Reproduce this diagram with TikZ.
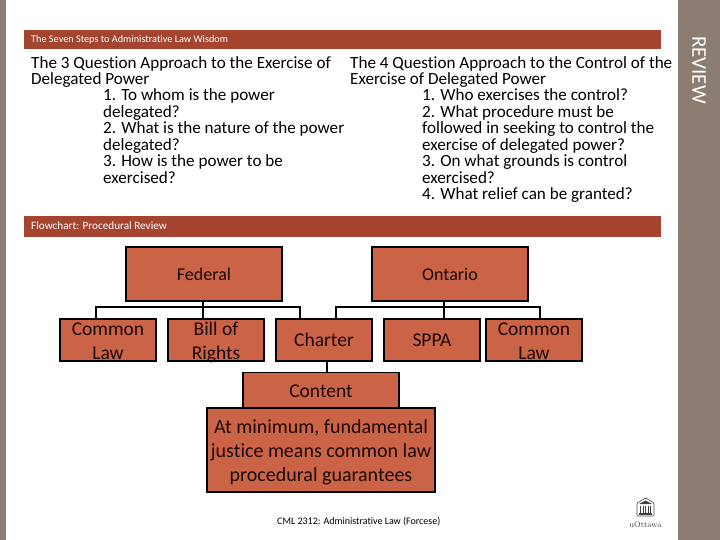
\documentclass[tikz,border=0pt]{standalone}
\usepackage{fontspec}
\setmainfont[Ligatures=NoCommon]{Carlito}
\definecolor{barred}{HTML}{A5452F}
\definecolor{boxred}{HTML}{CB6347}
\definecolor{panelgrey}{HTML}{8B7D72}
\definecolor{inkdark}{HTML}{1C0A06}
\newcommand\lowstrut[1]{\rule{0pt}{#1}}
\newcommand\twolines[2]{\raisebox{-8pt}[0pt][0pt]{\begin{tabular}{@{}c@{}}#1\\#2\end{tabular}}}
\tikzset{
  boxnode/.style={draw=black,line width=1.6pt,fill=boxred,text=inkdark,align=center,inner sep=0pt,font=\fontsize{19.5}{23.5}\selectfont},
  bartext/.style={anchor=west,text=white,inner sep=0pt},
  bodytext/.style={anchor=north west,inner sep=0pt,align=left,text=black,font=\fontsize{17.1}{16.5}\selectfont},
  link/.style={draw=black,line width=1.6pt}
}
\begin{document}
\begin{tikzpicture}[x=1pt,y=-1pt]
\useasboundingbox (0,0) rectangle (720,540);
\fill[panelgrey] (0,0) rectangle (6,540);
\fill[panelgrey] (678,0) rectangle (720,540);
\fill[barred] (24,30) rectangle (661,49);
\fill[barred] (24,216) rectangle (661,237);
\node[bartext,font=\fontsize{10.25}{12}\selectfont] (t1) at (31,39.5) {The Seven Steps to Administrative Law Wisdom};
\node[bartext,font=\fontsize{11.2}{12}\selectfont] (t2) at (31,226) {Flowchart: Procedural Review};
\node[rotate=-90,text=white,inner sep=0pt,font=\fontsize{21}{23}\selectfont] (rev) at (699,70) {REVIEW};
\node[bodytext] (l1) at (31,56) {The 3 Question Approach to the Exercise of\\Delegated Power};
\node[bodytext] (l2) at (103,88.5) {1. To whom is the power\\delegated?\\2. What is the nature of the power\\delegated?\\3. How is the power to be\\exercised?};
\node[bodytext] (r1) at (350,56) {The 4 Question Approach to the Control of the\\Exercise of Delegated Power};
\node[bodytext] (r2) at (422,88.5) {1. Who exercises the control?\\2. What procedure must be\\followed in seeking to control the\\exercise of delegated power?\\3. On what grounds is control\\exercised?\\4. What relief can be granted?};
\node[boxnode,font=\fontsize{18}{22}\selectfont,minimum width=156pt,minimum height=54pt] (fed) at (204,274) {Federal};
\node[boxnode,font=\fontsize{18}{22}\selectfont,minimum width=156pt,minimum height=54pt] (ont) at (450,274) {Ontario};
\node[boxnode,minimum width=96pt,minimum height=42pt] (cl1) at (108,340) {\twolines{Common}{Law}};
\node[boxnode,minimum width=96pt,minimum height=42pt] (bor) at (216,340) {\twolines{Bill of}{Rights}};
\node[boxnode,minimum width=96pt,minimum height=42pt] (cha) at (324,340) {Charter};
\node[boxnode,minimum width=96pt,minimum height=42pt] (spp) at (432,340) {SPPA};
\node[boxnode,minimum width=96pt,minimum height=42pt] (cl2) at (534,340) {\twolines{Common}{Law}};
\node[boxnode,minimum width=156pt,minimum height=35pt] (con) at (321,390) {\lowstrut{16pt}Content};
\node[boxnode,font=\fontsize{20}{24}\selectfont,minimum width=228pt,minimum height=84pt] (min) at (321,450) {\lowstrut{18pt}At minimum, fundamental\\justice means common law\\procedural guarantees};
\coordinate (fb) at (203,307);
\coordinate (ob) at (444,307);
\coordinate (a1) at (96,319);
\coordinate (a2) at (300,319);
\coordinate (a3) at (336,319);
\coordinate (a4) at (540,319);
\coordinate (c1) at (327,365);
\draw[link] (fed.south -| fb) -- (bor.north -| fb);
\draw[link] (ont.south -| ob) -- (spp.north -| ob);
\draw[link] (a1) |- (fb) -| (a2);
\draw[link] (a3) |- (ob) -| (a4);
\draw[link] (cha.south -| c1) -- (con.north -| c1);
\node[anchor=west,inner sep=0pt,text=black,font=\fontsize{10}{12}\selectfont] (foot) at (277,522) {CML 2312: Administrative Law (Forcese)};
% logo
\draw[black!70,line width=0.6pt,rounded corners=1pt] (637,503) -- (645.5,498) -- (654,503) -- (654,516) -- (637,516) -- cycle;
\fill[black!75] (639,504) -- (645.5,500.5) -- (652,504) -- cycle;
\foreach \x in {640,642.5,645,647.5,650} \fill[black!75] (\x,505.5) rectangle ++(1.2,7);
\fill[black!75] (639,513) rectangle (652,514.5);
\node[inner sep=0pt,text=black!75,font=\fontfamily{lmr}\fontsize{8}{9}\selectfont] (uo) at (645.5,525) {uOttawa};
\end{tikzpicture}
\end{document}
